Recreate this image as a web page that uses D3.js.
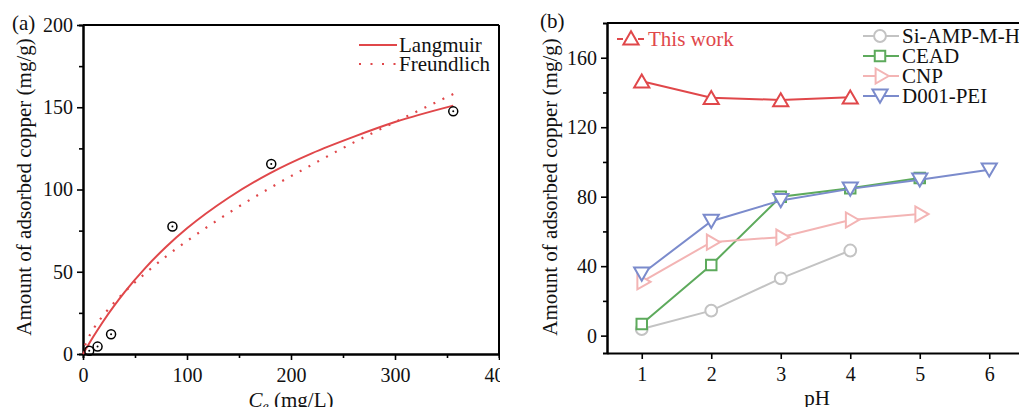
<!DOCTYPE html>
<html><head><meta charset="utf-8">
<script src="https://cdn.jsdelivr.net/npm/d3@7"></script>
<style>
body{margin:0;background:#fff;}
svg{display:block;font-family:"Liberation Serif","Times New Roman",serif;}
</style></head>
<body>
<svg id="c" width="1019" height="407"></svg>
<script>
// ---------- Panel (a) data ----------
const expCe = [6, 14, 27, 86, 181, 356];
const expQe = [2, 4.5, 12, 77.5, 115.5, 147.5];
const langCe = [0, 10, 20, 40, 60, 80, 100, 140, 180, 220, 260, 300, 356];
const langQe = [0, 10.6, 20.4, 37.6, 52.4, 65.2, 76.4, 95, 110, 122, 132, 141, 151];
const freCe = [2, 5, 10, 20, 40, 60, 80, 100, 140, 180, 220, 260, 300, 356];
const freQe = [5.3, 9.6, 15.2, 23.9, 37.7, 49.1, 59.4, 68.7, 85.7, 101, 115, 128.5, 141, 158];
const aXTicks = [0, 100, 200, 300, 400];
const aYTicks = [0, 50, 100, 150, 200];

// ---------- Panel (b) data ----------
const pH = [1, 2, 3, 4, 5, 6];
const thisWork = [146.5, 137, 135.7, 137.3];
const siAmp = [3.8, 14.4, 33, 49];
const cead = [6.7, 40.7, 80, 84.9, 90.8];
const cnp = [31, 53.8, 56.7, 66.6, 70];
const d001 = [35.5, 65.9, 77.8, 84.5, 89.7, 95.5];
const bYTicks = [0, 40, 80, 120, 160];
const bXTicks = [1, 2, 3, 4, 5, 6];

const RED = "#e0474a", GRAY = "#c3c3c3", GREEN = "#5daa5c", PINK = "#f3b4b4", BLUE = "#7b8bcc";

const svg = d3.select("#c");
const FS = 20;

function styleAxis(g) {
  g.selectAll(".domain").attr("stroke", "#000").attr("stroke-width", 2);
  g.selectAll(".tick line").attr("stroke", "#000").attr("stroke-width", 1.6);
  g.selectAll(".tick text").attr("font-family", '"Liberation Serif",serif').attr("font-size", FS).attr("fill", "#111");
}

// ================= Panel (a) =================
const clip = svg.append("defs").append("clipPath").attr("id", "clipA");
clip.append("rect").attr("x", 0).attr("y", 0).attr("width", 500).attr("height", 407);
const A = svg.append("g").attr("clip-path", "url(#clipA)");
const ax = d3.scaleLinear().domain([0, 400]).range([83, 499]);
const ay = d3.scaleLinear().domain([0, 200]).range([354, 25]);

A.append("g").attr("transform", "translate(0,354)")
  .call(d3.axisBottom(ax).tickValues(d3.range(50, 400, 100)).tickSize(4).tickFormat(""))
  .call(styleAxis);
A.append("g").attr("transform", "translate(83,0)")
  .call(d3.axisLeft(ay).tickValues(d3.range(25, 200, 50)).tickSize(4).tickFormat(""))
  .call(styleAxis);
const axg = A.append("g").attr("transform", "translate(0,354)")
  .call(d3.axisBottom(ax).tickValues(aXTicks).tickSize(6).tickSizeOuter(0).tickPadding(8).tickFormat(d3.format("d")))
  .call(styleAxis);
axg.selectAll(".tick text").attr("dy", "0.71em");
A.append("g").attr("transform", "translate(83,0)")
  .call(d3.axisLeft(ay).tickValues(aYTicks).tickSize(6).tickSizeOuter(0).tickPadding(4).tickFormat(d3.format("d")))
  .call(styleAxis);
A.append("line").attr("x1", 83).attr("x2", 499).attr("y1", 25).attr("y2", 25).attr("stroke", "#000").attr("stroke-width", 2);
A.append("line").attr("x1", 499).attr("x2", 499).attr("y1", 25).attr("y2", 354).attr("stroke", "#000").attr("stroke-width", 2);

const lineA = d3.line().x(d => ax(d[0])).y(d => ay(d[1])).curve(d3.curveMonotoneX);
A.append("path").attr("d", lineA(freCe.map((c, i) => [c, freQe[i]])))
  .attr("fill", "none").attr("stroke", RED).attr("stroke-width", 2.2).attr("stroke-dasharray", "2,8");
A.append("path").attr("d", lineA(langCe.map((c, i) => [c, langQe[i]])))
  .attr("fill", "none").attr("stroke", RED).attr("stroke-width", 2);

const pts = A.append("g");
expCe.forEach((c, i) => {
  pts.append("circle").attr("cx", ax(c)).attr("cy", ay(expQe[i])).attr("r", 4.5)
    .attr("fill", "none").attr("stroke", "#000").attr("stroke-width", 1.5);
  pts.append("circle").attr("cx", ax(c)).attr("cy", ay(expQe[i])).attr("r", 1).attr("fill", "#000");
});

A.append("line").attr("x1", 359).attr("x2", 397).attr("y1", 45).attr("y2", 45).attr("stroke", RED).attr("stroke-width", 2);
A.append("line").attr("x1", 359).attr("x2", 397).attr("y1", 64).attr("y2", 64).attr("stroke", RED).attr("stroke-width", 2.2).attr("stroke-dasharray", "2,9.5");
A.append("text").attr("x", 399).attr("y", 52).attr("font-size", 21).attr("fill", "#111").text("Langmuir");
A.append("text").attr("x", 399).attr("y", 71).attr("font-size", 21).attr("fill", "#111").text("Freundlich");

svg.append("text").attr("x", 12).attr("y", 30).attr("font-size", 21).attr("fill", "#111").text("(a)");
svg.append("text").attr("transform", "translate(31,187) rotate(-90)").attr("text-anchor", "middle")
  .attr("font-size", 21).attr("fill", "#111").text("Amount of adsorbed copper (mg/g)");
const xl = svg.append("text").attr("x", 291).attr("y", 407).attr("text-anchor", "middle").attr("font-size", 21).attr("fill", "#111");
xl.append("tspan").attr("font-style", "italic").text("C");
xl.append("tspan").attr("font-style", "italic").attr("font-size", 14).attr("dy", 4).text("e");
xl.append("tspan").attr("dy", -4).text(" (mg/L)");

// ================= Panel (b) =================
const B = svg.append("g");
const bx = d3.scaleLinear().domain([0.5, 6.5]).range([607, 1024]);
const by = d3.scaleLinear().domain([-10, 180]).range([353, 23]);

B.append("g").attr("transform", "translate(607,0)")
  .call(d3.axisLeft(by).tickValues(d3.range(20, 180, 40)).tickSize(4).tickFormat(""))
  .call(styleAxis);
const bxg = B.append("g").attr("transform", "translate(0,353)")
  .call(d3.axisBottom(bx).tickValues(bXTicks).tickSize(6).tickSizeOuter(0).tickPadding(8).tickFormat(d3.format("d")))
  .call(styleAxis);
bxg.selectAll(".tick text").attr("dy", "0.71em");
B.append("g").attr("transform", "translate(607,0)")
  .call(d3.axisLeft(by).tickValues(bYTicks).tickSize(6).tickSizeOuter(0).tickPadding(4).tickFormat(d3.format("d")))
  .call(styleAxis);
B.append("line").attr("x1", 607).attr("x2", 1024).attr("y1", 23).attr("y2", 23).attr("stroke", "#000").attr("stroke-width", 2);

const symCircle = d3.symbol().type(d3.symbolCircle).size(110);
const symSquare = d3.symbol().type(d3.symbolSquare).size(110);
const symTri = d3.symbol().type(d3.symbolTriangle).size(100);

function marker(g, type, color, x, y) {
  const p = g.append("path").attr("d", type === "circle" ? symCircle() : type === "square" ? symSquare() : symTri())
    .attr("fill", "#fff").attr("stroke", color).attr("stroke-width", 2);
  let rot = 0;
  if (type === "right") rot = 90;
  if (type === "down") rot = 180;
  let off = 0;
  if (type === "up") off = 2; if (type === "down") off = -2;
  p.attr("transform", `translate(${x},${y + off}) rotate(${rot})`);
}

const series = [
  {vals: siAmp, color: GRAY, type: "circle", name: "Si-AMP-M-H"},
  {vals: cead, color: GREEN, type: "square", name: "CEAD"},
  {vals: cnp, color: PINK, type: "right", name: "CNP"},
  {vals: d001, color: BLUE, type: "down", name: "D001-PEI"},
  {vals: thisWork, color: RED, type: "up", name: "This work"}
];
const lineB = d3.line().x(d => bx(d[0])).y(d => by(d[1]));
series.forEach(s => {
  const g = B.append("g");
  const data = s.vals.map((v, i) => [pH[i], v]);
  g.append("path").attr("d", lineB(data)).attr("fill", "none").attr("stroke", s.color).attr("stroke-width", 2);
  data.forEach(d => marker(g, s.type, s.color, bx(d[0]), by(d[1])));
});

series.slice(0, 4).forEach((s, i) => {
  const y = 36 + i * 20;
  B.append("line").attr("x1", 863).attr("x2", 899).attr("y1", y).attr("y2", y).attr("stroke", s.color).attr("stroke-width", 2);
  marker(B, s.type, s.color, 880, y);
  B.append("text").attr("x", 902).attr("y", y + 7).attr("font-size", 21).attr("fill", "#111").text(s.name);
});
B.append("line").attr("x1", 617).attr("x2", 623).attr("y1", 39).attr("y2", 39).attr("stroke", RED).attr("stroke-width", 2);
B.append("line").attr("x1", 638).attr("x2", 644).attr("y1", 39).attr("y2", 39).attr("stroke", RED).attr("stroke-width", 2);
marker(B, "up", RED, 631, 38);
B.append("text").attr("x", 648).attr("y", 46).attr("font-size", 21).attr("fill", RED).text("This work");

svg.append("text").attr("x", 540).attr("y", 28).attr("font-size", 21).attr("fill", "#111").text("(b)");
svg.append("text").attr("transform", "translate(557,187) rotate(-90)").attr("text-anchor", "middle")
  .attr("font-size", 21).attr("fill", "#111").text("Amount of adsorbed copper (mg/g)");
svg.append("text").attr("x", 817).attr("y", 405).attr("text-anchor", "middle").attr("font-size", 21).attr("fill", "#111").text("pH");
</script>
</body></html>
